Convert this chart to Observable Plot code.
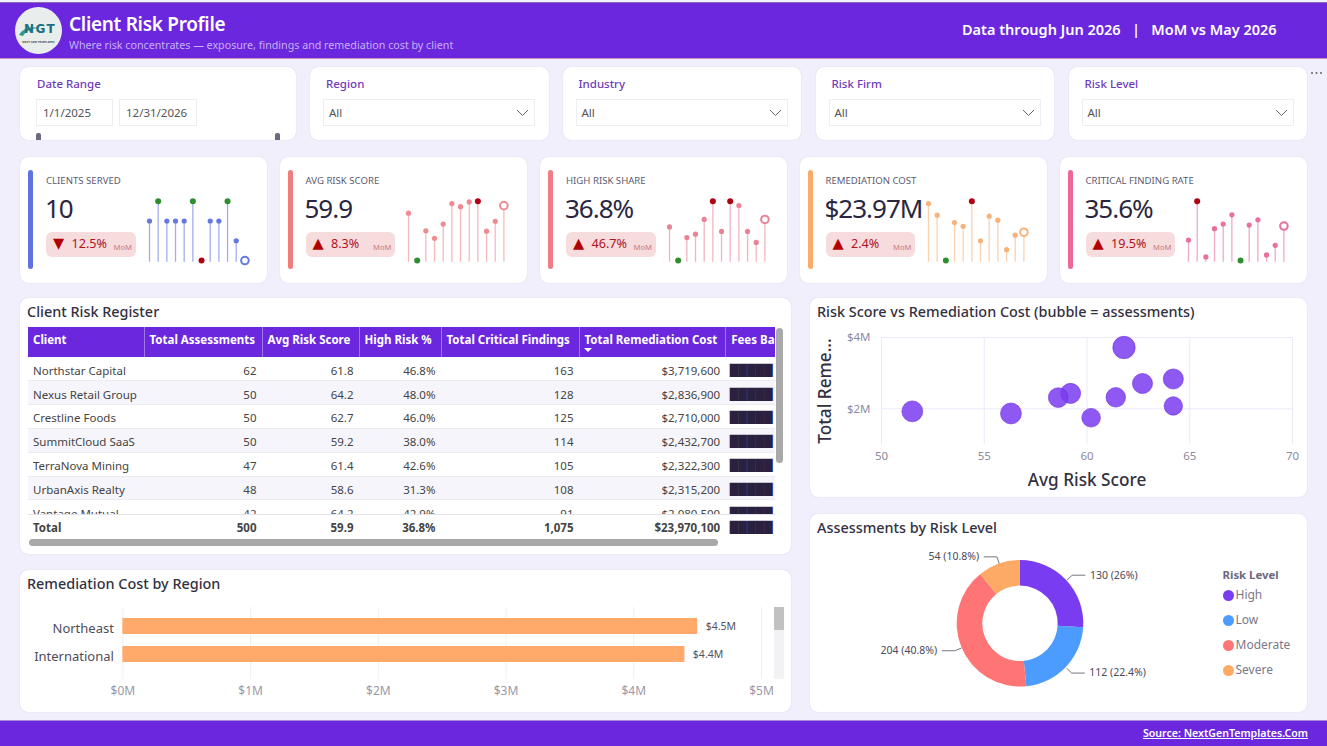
<!DOCTYPE html>
<html lang="en">
<head>
<meta charset="utf-8">
<title>Client Risk Profile</title>
<script src="https://cdn.jsdelivr.net/npm/d3@7"></script>
<script src="https://cdn.jsdelivr.net/npm/@observablehq/plot@0.6"></script>
<style>
html,body{margin:0;padding:0;width:1327px;height:746px;overflow:hidden;background:#f1effb;font-family:"Noto Sans",sans-serif;color:#2a2640}
.abs,.card,.t{position:absolute}
.t{white-space:nowrap;line-height:1}
.card{background:#fff;border-radius:8px;box-sizing:border-box;box-shadow:0 0 1px rgba(90,70,170,.3)}
svg{display:block}
svg[class^="plot"]{position:absolute;background:transparent!important;overflow:visible}
.box{position:absolute;background:#fff;border:1px solid #eeedf3;box-sizing:border-box;font-size:11.5px;color:#555;line-height:25px;padding-left:6px}
.sel{padding-left:5px}
.rowx{position:absolute;left:28px;width:747px;display:flex;box-sizing:border-box;font-size:11.5px;color:#444;align-items:center;border-bottom:1px solid #ecebf3;padding-top:3px}
.rowx>div{box-sizing:border-box;text-align:right;padding-right:6px;flex:none;overflow:hidden;white-space:nowrap}
.rowx>div:first-child{text-align:left;padding-left:5px;padding-right:0}
.rowx>div.bl{font-family:"DejaVu Sans";font-size:11.2px;line-height:15px;color:#2a2140;text-align:left;padding:0 0 0 3.5px;height:15px;font-weight:400}
.hd>div{box-sizing:border-box;flex:none;overflow:hidden;white-space:nowrap;padding-left:5px;font-weight:700;font-size:11.5px;color:#fff;height:30px;line-height:26px;border-right:1px solid #9f78ea}
</style>
</head>
<body>
<script>
// ---------- chart data ----------
const headerTitle = "Client Risk Profile";
const headerSub = "Where risk concentrates — exposure, findings and remediation cost by client";
const headerRight = "Data through Jun 2026   |   MoM vs May 2026";

const filterNames = ["Region", "Industry", "Risk Firm", "Risk Level"];

const kpiNames = ["CLIENTS SERVED", "AVG RISK SCORE", "HIGH RISK SHARE", "REMEDIATION COST", "CRITICAL FINDING RATE"];
const kpiValues = ["10", "59.9", "36.8%", "$23.97M", "35.6%"];
const kpiDeltas = ["12.5%", "8.3%", "46.7%", "2.4%", "19.5%"];
const kpiArrows = ["▼", "▲", "▲", "▲", "▲"];
const months = ["Jul","Aug","Sep","Oct","Nov","Dec","Jan","Feb","Mar","Apr","May","Jun"];
const clientsServed = [9,10,9,9,9,10,7,9,9,10,8,7];
const avgRiskScore = [57.7,43.8,52.5,50.3,54.5,60.5,59.6,61.0,61.2,52.4,55.3,59.9];
const highRiskShare = [33.0,15.9,27.6,29.3,36.8,46.1,30.7,46.1,43.9,30.7,25.1,36.8];
const remediationCost = [1.588,1.47,1.01,1.395,1.358,1.612,1.21,1.46,1.42,1.12,1.267,1.297];
const criticalRate = [31.4,43.1,26.3,34.8,36.2,39.0,25.2,35.9,37.5,26.9,29.8,35.6];

const tableColumns = ["Client","Total Assessments","Avg Risk Score","High Risk %","Total Critical Findings","Total Remediation Cost","Fees Ba"];
const clientNames = ["Northstar Capital","Nexus Retail Group","Crestline Foods","SummitCloud SaaS","TerraNova Mining","UrbanAxis Realty","Vantage Mutual"];
const clientAssessments = [62,50,50,50,47,48,42];
const clientScores = [61.8,64.2,62.7,59.2,61.4,58.6,64.2];
const clientHighRisk = ["46.8%","48.0%","46.0%","38.0%","42.6%","31.3%","42.9%"];
const clientCritical = [163,128,125,114,105,108,91];
const clientCost = [3719600,2836900,2710000,2432700,2322300,2315200,2080500];
const tableTotals = ["Total","500","59.9","36.8%","1,075","$23,970,100"];

// bubble chart: every client, including those scrolled out of the register
const bubbleScore = [61.8,64.2,62.7,59.2,61.4,58.6,64.2,51.5,56.3,60.2];
const bubbleCost = [3719600,2836900,2710000,2432700,2322300,2315200,2080500,1930000,1870000,1750000];
const bubbleAssessments = [62,50,50,50,47,48,42,54,54,43];
const bubbleXTicks = [50,55,60,65,70];
const bubbleYTicks = [2000000,4000000];

const regionNames = ["Northeast","International"];
const regionCost = [4500000,4400000];
const regionTicks = [0,1000000,2000000,3000000,4000000,5000000];

const riskLevels = ["High","Low","Moderate","Severe"];
const riskCounts = [130,112,204,54];
const riskLabels = ["130 (26%)","112 (22.4%)","204 (40.8%)","54 (10.8%)"];

// ---------- styles ----------
const FONT = '"Noto Sans",sans-serif';
const PURPLE = "#6b27de";
const kpiColors = ["#5f72e0","#f07c7c","#f07c85","#fdab6b","#ee6799"];
const kpiDots = ["#6478de","#ee8a90","#ea8396","#f8b27c","#ea6f9e"];
const riskColors = ["#7a3cf0","#4c9cff","#ff7575","#fdaa66"];
const GOOD = "#2f8f2f", BAD = "#b00012";

function el(tag, css, html, parent){
  const e = document.createElement(tag);
  e.style.cssText = css;
  if (html != null) e.innerHTML = html;
  (parent || document.body).appendChild(e);
  return e;
}
const text = (x,y,s,css) => el("div",`left:${x}px;top:${y}px;${css||""}`,s).classList.add("t");
const card = (x,y,w,h) => el("div",`left:${x}px;top:${y}px;width:${w}px;height:${h}px`).classList.add("card");
function place(svg,x,y){ svg.style.left=x+"px"; svg.style.top=y+"px"; svg.style.position="absolute"; document.body.appendChild(svg); }

// ---------- header / footer ----------
el("div",`position:absolute;left:0;top:2px;width:1327px;height:57px;background:${PURPLE};border-top:1px solid #8b6cb4;border-bottom:1px solid #c78fc0;box-sizing:border-box`);
el("div",`position:absolute;left:0;top:720px;width:1327px;height:26px;background:${PURPLE};border-top:1px solid #a98bd8;box-sizing:border-box`);
el("div","position:absolute;left:15px;top:7px;width:47px;height:47px;",
`<svg width="47" height="47" viewBox="0 0 47 47"><circle cx="23.5" cy="23.5" r="23.5" fill="#e9edeb"/>
<path d="M4 28 Q10 18 24 21 Q13 21 8 29 Z" fill="#2b9c8f"/>
<text x="25" y="26" text-anchor="middle" font-family="DejaVu Sans" font-weight="700" font-size="12" letter-spacing="1.4" fill="#1a6f80">NGT</text>
<text x="23.5" y="36" text-anchor="middle" font-family="DejaVu Sans" font-weight="700" font-size="2.6" fill="#555">NEXT GEN TEMPLATES</text></svg>`);
text(69,15,headerTitle,"font-size:19px;font-weight:600;color:#fff;letter-spacing:-.3px");
text(69,39.5,headerSub,"font-size:10.7px;color:#c7b0f4;");
text(962,22,headerRight.replace(/ /g,"&nbsp;"),"font-size:14.5px;font-weight:600;color:#fff;");
text(1143,728,"Source: NextGenTemplates.Com","font-size:10.6px;font-weight:600;color:#fff;text-decoration:underline;");

// ---------- filters ----------
card(20,66.5,276,73);
text(37,77.5,"Date Range","font-size:11.5px;font-weight:500;color:#6f3ab8;");
el("div","left:36px;top:99px;width:77px;height:26.5px","1/1/2025").className="box";
el("div","left:119px;top:99px;width:78px;height:26.5px","12/31/2026").className="box";
[36,275].forEach(x => el("div",`position:absolute;left:${x}px;top:133px;width:4.5px;height:6.5px;background:#6b6880;border-radius:2px 2px 0 0`));
const filterX = [310,562.5,815.5,1068.5];
filterNames.forEach((n,i)=>{
  const x = filterX[i];
  card(x,66.5,238.5,73);
  text(x+16,77.5,n,"font-size:11.5px;font-weight:500;color:#6f3ab8;");
  el("div",`left:${x+13}px;top:99px;width:212px;height:26.5px`,"All").className="box sel";
  el("div",`position:absolute;left:${x+206}px;top:109px;width:13px;height:8px`,
    `<svg width="13" height="8"><path d="M1 1 L6.5 6.5 L12 1" fill="none" stroke="#666" stroke-width="1"/></svg>`);
});
el("div","position:absolute;left:1310px;top:71px;width:14px;height:4px",
  `<svg width="14" height="4"><g fill="#666"><circle cx="2" cy="2" r="1"/><circle cx="6.5" cy="2" r="1"/><circle cx="11" cy="2" r="1"/></g></svg>`);

// ---------- KPI cards ----------
const kpiX = [20,279.5,540,799.5,1059.5];
const kpiSeries = [clientsServed,avgRiskScore,highRiskShare,remediationCost,criticalRate];
kpiNames.forEach((name,i)=>{
  const x = kpiX[i], series = kpiSeries[i], color = kpiColors[i], dotc = kpiDots[i];
  card(x,156.5,247,126.5);
  el("div",`position:absolute;left:${x+8}px;top:170px;width:5px;height:99px;border-radius:3px;background:${color}`);
  text(x+26,176,name,"font-size:9.6px;color:#5e5b70;");
  text(x+25,195,kpiValues[i],"font-size:26px;color:#2a2640;letter-spacing:-1px");
  el("div",`position:absolute;left:${x+26}px;top:231.7px;width:89.5px;height:25.5px;background:#f6dcdc;border-radius:6px`);
  text(x+33,236,kpiArrows[i],'font-size:14.5px;color:#b00000;font-family:"DejaVu Sans";');
  text(x+51.5,238,kpiDeltas[i],"font-size:12.6px;color:#b3121d;");
  text(x+93.5,243.5,"MoM","font-size:7.6px;color:#c97b80;");
  const inverted = i === 0; // more clients is good; more risk is bad
  const hi = d3.max(series), lo = d3.min(series);
  const rows = series.map((v,k)=>({month:months[k],k,v,kind:k===series.length-1?"last":v===hi?"hi":v===lo?"lo":"mid"}));
  const span = hi - lo;
  const base = lo - span*0.028;
  const sp = Plot.plot({
    width:112,height:80,margin:0,
    style:{background:"transparent"},
    x:{domain:[0,11],range:[5,100.4],axis:null},
    y:{domain:[base,hi],range:[71.7,10.7],axis:null},
    marks:[
      Plot.ruleX(rows,{x:"k",y1:base,y2:"v",stroke:dotc,strokeWidth:1.3,strokeOpacity:.6}),
      Plot.dot(rows.filter(d=>d.kind==="mid"),{x:"k",y:"v",r:2.6,fill:dotc}),
      Plot.dot(rows.filter(d=>d.kind==="hi"),{x:"k",y:"v",r:3,fill:inverted?GOOD:BAD}),
      Plot.dot(rows.filter(d=>d.kind==="lo"),{x:"k",y:"v",r:3,fill:inverted?BAD:GOOD}),
      Plot.dot(rows.filter(d=>d.kind==="last"),{x:"k",y:"v",r:3.8,fill:"#fff",stroke:dotc,strokeWidth:2})
    ]
  });
  place(sp,x+123.8,190);
});

// ---------- register ----------
card(20,298,771,256);
text(27,304.5,"Client Risk Register","font-size:14.4px;font-weight:500;color:#33303f;");
const colW = [116.5,118,97,82,138,146.7,49];
const money = d3.format("$,");
const head = el("div",`position:absolute;left:28px;top:327.3px;width:747px;height:30px;background:${PURPLE};display:flex;overflow:hidden`);
head.className="hd";
tableColumns.forEach((c,j)=>el("div",`width:${colW[j]}px;${j===6?"border-right:none":""}`,c,head));
el("div","position:absolute;left:583.5px;top:348px;width:0;height:0;border-left:4px solid transparent;border-right:4px solid transparent;border-top:4px solid #fff");
const clip = el("div","position:absolute;left:0;top:357.3px;width:1327px;height:157px;overflow:hidden");
const rowCells = (i)=>[clientNames[i],clientAssessments[i],clientScores[i].toFixed(1),clientHighRisk[i],clientCritical[i],money(clientCost[i])];
clientNames.forEach((n,i)=>{
  const r = el("div",`top:${i*23.85}px;height:23.85px;background:${i%2?"#f6f5fc":"#fff"}`,null,clip);
  r.className="rowx";
  rowCells(i).forEach((c,j)=>el("div",`width:${colW[j]}px`,c,r));
  const b = el("div",`width:${colW[6]}px`,"█████",r); b.className="bl";
});
const tot = el("div",`top:514.3px;height:24px;font-weight:700;background:#fff;border-top:1px solid #e3e2ea;border-bottom:none;padding-top:1px`);
tot.className="rowx";
tableTotals.forEach((c,j)=>el("div",`width:${colW[j]}px`,c,tot));
const tb = el("div",`width:${colW[6]}px`,"█████",tot); tb.className="bl";
el("div","position:absolute;left:29px;top:538.7px;width:689px;height:7.3px;background:#a9a9a9;border-radius:4px");
el("div","position:absolute;left:776px;top:328px;width:7px;height:135px;background:#a9a9a9;border-radius:4px");

// ---------- bubble chart ----------
card(809.5,298,497.5,199);
text(817,304.5,"Risk Score vs Remediation Cost (bubble = assessments)","font-size:14.4px;font-weight:500;color:#33303f;");
const bubbles = bubbleScore.map((s,i)=>({s,c:bubbleCost[i],n:bubbleAssessments[i]}));
const moneyM = d => `$${d/1e6}M`;
const bubblePlot = Plot.plot({
  width:497,height:172,
  marginLeft:71,marginRight:15,marginTop:12,marginBottom:53,
  style:{background:"transparent",fontFamily:FONT},
  x:{domain:[50,70],label:null},
  y:{domain:[1000000,4000000],label:null},
  r:{domain:[0,62],range:[0,11.2]},
  marks:[
    Plot.gridX(bubbleXTicks,{stroke:"#ebe9f8",strokeOpacity:1}),
    Plot.gridY(bubbleYTicks,{stroke:"#ebe9f8",strokeOpacity:1}),
    Plot.axisX({ticks:bubbleXTicks,tickSize:0,tickPadding:7,fontSize:11.5,color:"#8d8a9c",label:null}),
    Plot.axisY({ticks:bubbleYTicks,tickFormat:moneyM,tickSize:0,tickPadding:11,fontSize:11.5,color:"#8d8a9c",label:null}),
    Plot.dot(bubbles,{x:"s",y:"c",r:"n",fill:"#7a3cf0",fillOpacity:.85,stroke:"#6a2fe0",strokeWidth:1,strokeOpacity:.6}),
    Plot.text(["Avg Risk Score"],{frameAnchor:"bottom",dy:41,fontSize:17.2,fontWeight:500,fill:"#33303f"}),
    Plot.text(["Total Reme..."],{frameAnchor:"left",textAnchor:"middle",dx:-56,rotate:-90,fontSize:17.2,fontWeight:500,fill:"#33303f"})
  ]
});
place(bubblePlot,810,325);

// ---------- region bars ----------
card(20,570,771,142);
text(27,576.5,"Remediation Cost by Region","font-size:14.4px;font-weight:500;color:#33303f;");
const regions = regionNames.map((r,i)=>({r,v:regionCost[i]}));
const barPlot = Plot.plot({
  width:771,height:112,
  marginLeft:102.4,marginRight:30,marginTop:7,marginBottom:33,
  style:{background:"transparent",fontFamily:FONT},
  x:{domain:[0,5000000],label:null},
  y:{domain:regionNames,range:[4,76],paddingInner:.43,paddingOuter:.5,label:null},
  marks:[
    Plot.gridX(regionTicks,{stroke:"#efeef5",strokeOpacity:1}),
    Plot.barX(regions,{y:"r",x:"v",fill:"#ffa96b"}),
    Plot.text(regions,{y:"r",x:"v",text:d=>`$${(d.v/1e6).toFixed(1)}M`,dx:8,textAnchor:"start",fontSize:10.5,fill:"#55525f"}),
    Plot.axisX({ticks:regionTicks,tickFormat:moneyM,tickSize:0,tickPadding:7,fontSize:12,color:"#9a98a6",label:null}),
    Plot.axisY({tickSize:0,tickPadding:9,fontSize:13,color:"#4f4c5a",label:null,dy:2.5})
  ]
});
place(barPlot,20,600);
el("div","position:absolute;left:774px;top:607px;width:10px;height:72px;background:#f2f2f4");
el("div","position:absolute;left:774px;top:607px;width:10px;height:23px;background:#c1c1c1");

// ---------- donut ----------
card(809.5,513.5,497.5,198.5);
text(817,520.5,"Assessments by Risk Level","font-size:14.4px;font-weight:500;color:#33303f;");
const OUTER = 63.3, INNER = 37.7, ELBOW = 71, RUN = 12.7;
const total = d3.sum(riskCounts);
const pie = d3.pie().sort(null)(riskCounts);
const polar = (r,a) => [r*Math.sin(a), -r*Math.cos(a)];
const slices = pie.map((p,i)=>{
  const mid = (p.startAngle+p.endAngle)/2, side = Math.sin(mid)>=0?1:-1;
  const a = polar(OUTER+1,mid), b = polar(ELBOW,mid), c = [b[0]+side*RUN,b[1]];
  return {...p,i,level:riskLevels[i],label:riskLabels[i],share:riskCounts[i]/total,mid,side,pts:[a,b,c]};
});
const leaders = slices.flatMap(s=>s.pts.map(p=>({level:s.level,x:p[0],y:p[1]})));
const labelRows = slices.map(s=>({x:s.pts[2][0]+s.side*5,y:s.pts[2][1],t:s.label,side:s.side}));
const arcGen = d3.arc().innerRadius(INNER).outerRadius(OUTER);
const donutPlot = Plot.plot({
  width:400,height:172,margin:0,
  style:{background:"transparent",fontFamily:FONT},
  x:{domain:[-210,190],range:[0,400],axis:null},
  y:{domain:[-83.3,88.7],range:[0,172],axis:null},
  marks:[
    (index,scales)=>{
      const g = d3.create("svg:g").attr("transform",`translate(${scales.x(0)},${scales.y(0)})`);
      g.selectAll("path").data(slices).join("path")
        .attr("d",arcGen).attr("fill",d=>riskColors[d.i]);
      return g.node();
    },
    Plot.line(leaders,{x:"x",y:"y",z:"level",stroke:"#77747f",strokeWidth:1,curve:"linear"}),
    Plot.text(labelRows.filter(d=>d.side>0),{x:"x",y:"y",text:"t",textAnchor:"start",fontSize:10.5,fill:"#4d4a57"}),
    Plot.text(labelRows.filter(d=>d.side<0),{x:"x",y:"y",text:"t",textAnchor:"end",fontSize:10.5,fill:"#4d4a57"})
  ]
});
place(donutPlot,810,540);
text(1222.5,569,"Risk Level","font-size:11.4px;font-weight:700;color:#6c6880;");
riskLevels.forEach((n,i)=>{
  const y = 595+25*i;
  el("div",`position:absolute;left:1222.5px;top:${y-5.5}px;width:11px;height:11px;border-radius:50%;background:${riskColors[i]}`);
  text(1235.5,y-6.5,n,"font-size:12px;color:#7b788a;");
});
</script>
</body>
</html>
